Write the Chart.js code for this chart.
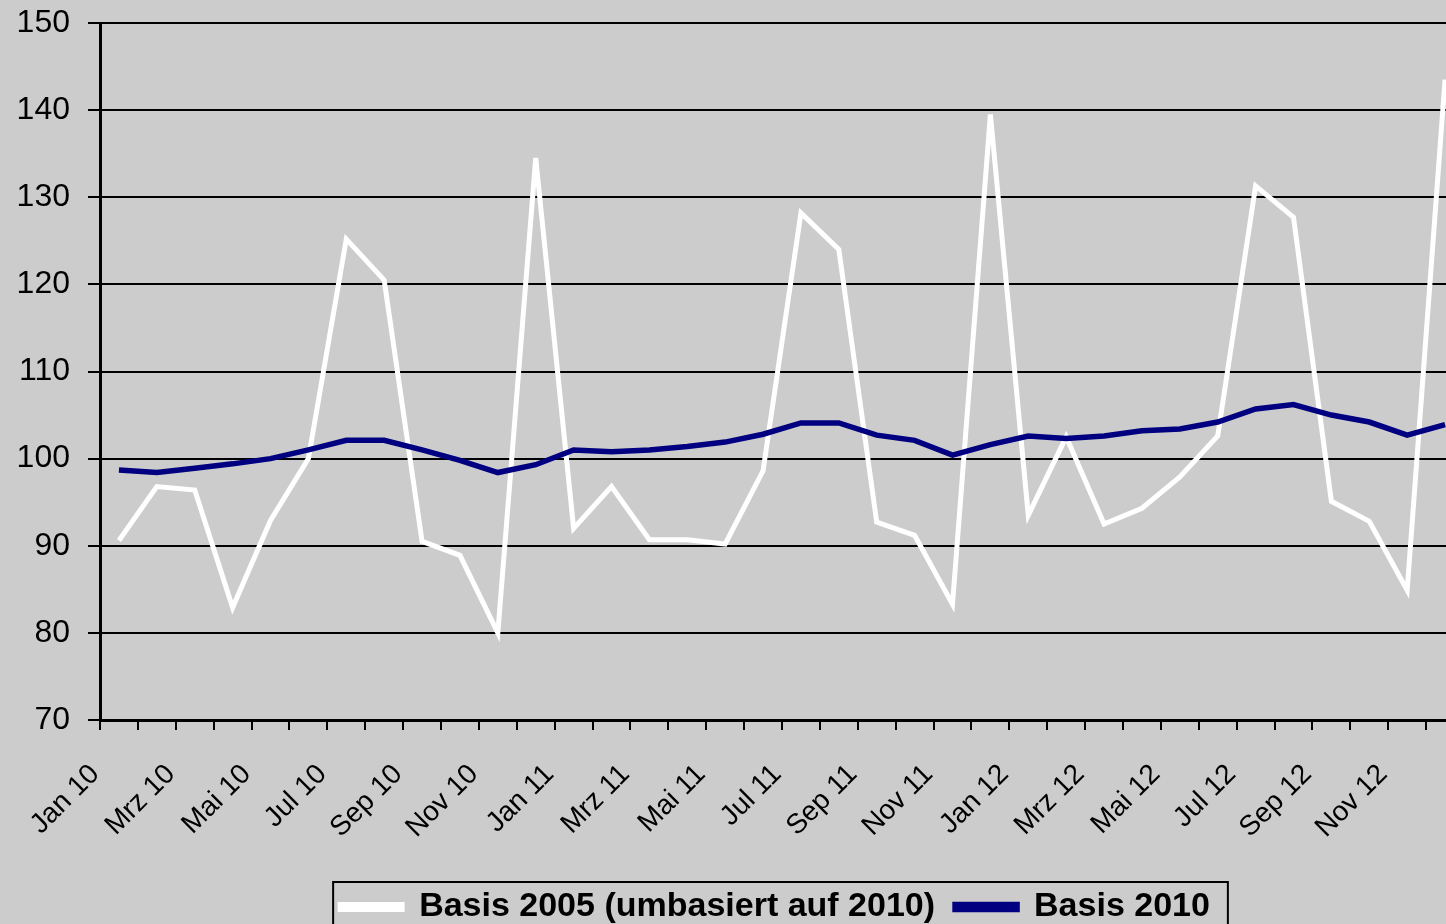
<!DOCTYPE html>
<html>
<head>
<meta charset="utf-8">
<script src="https://cdn.jsdelivr.net/npm/chart.js@4"></script>
<style>
  html, body { margin: 0; padding: 0; overflow: hidden; background: #cccccc; }
  #wrap { position: absolute; left: 0; top: 0; width: 1550px; height: 934px; }
</style>
</head>
<body>
<div id="wrap"><canvas id="statChart"></canvas></div>
<script>
// months Jan 10 .. Dez 12
var months = ['Jan 10','Feb 10','Mrz 10','Apr 10','Mai 10','Jun 10','Jul 10','Aug 10','Sep 10','Okt 10','Nov 10','Dez 10',
              'Jan 11','Feb 11','Mrz 11','Apr 11','Mai 11','Jun 11','Jul 11','Aug 11','Sep 11','Okt 11','Nov 11','Dez 11',
              'Jan 12','Feb 12','Mrz 12','Apr 12','Mai 12','Jun 12','Jul 12','Aug 12','Sep 12','Okt 12','Nov 12','Dez 12'];

var basis2005 = [90.6, 96.8, 96.4, 82.9, 92.9, 100, 125.2, 120.5, 90.5, 88.9, 80, 134.5,
                 92, 96.8, 90.7, 90.7, 90.2, 98.6, 128.2, 124, 92.7, 91.2, 83.3, 139.5,
                 93.5, 102.5, 92.5, 94.3, 97.9, 102.6, 131.3, 127.7, 95.1, 92.8, 84.9, 143.5];

var basis2010 = [98.7, 98.4, 98.9, 99.4, 100, 101, 102.1, 102.1, 101, 99.8, 98.4, 99.3,
                 101, 100.8, 101, 101.4, 101.9, 102.8, 104.1, 104.1, 102.7, 102.1, 100.4, 101.6,
                 102.6, 102.3, 102.6, 103.2, 103.4, 104.2, 105.7, 106.2, 105, 104.2, 102.7, 103.9];

var yTicks = [70, 80, 90, 100, 110, 120, 130, 140, 150];

Chart.defaults.font.family = 'Arial, "Liberation Sans", sans-serif';
Chart.defaults.color = '#000000';

// frame round the legend like the original
var legendFrame = {
  id: 'legendFrame',
  afterDraw: function (chart) {
    var boxes = chart.legend.legendHitBoxes;
    if (!boxes || !boxes.length) return;
    var l = Math.min.apply(null, boxes.map(b => b.left));
    var r = Math.max.apply(null, boxes.map(b => b.left + b.width));
    var mid = boxes[0].top + boxes[0].height / 2;
    var ctx = chart.ctx;
    ctx.save();
    ctx.strokeStyle = '#000000';
    ctx.lineWidth = 2;
    ctx.strokeRect(l - 7, mid - 25, (r - l) + 25, 50);
    ctx.restore();
  }
};

var ctx = document.getElementById('statChart').getContext('2d');
var chart = new Chart(ctx, {
  type: 'line',
  data: {
    labels: months,
    datasets: [
      {
        label: 'Basis 2005 (umbasiert auf 2010)',
        data: basis2005,
        borderColor: '#ffffff',
        backgroundColor: '#ffffff',
        borderWidth: 5,
        pointRadius: 0,
        tension: 0,
        order: 2
      },
      {
        label: 'Basis 2010',
        data: basis2010,
        borderColor: '#000080',
        backgroundColor: '#000080',
        borderWidth: 5.5,
        pointRadius: 0,
        tension: 0,
        order: 1
      }
    ]
  },
  options: {
    responsive: true,
    maintainAspectRatio: false,
    animation: false,
    layout: { padding: { top: 23, left: 0, right: 0, bottom: 0 } },
    plugins: {
      tooltip: { enabled: false },
      legend: {
        position: 'bottom',
        reverse: true,
        labels: {
          boxWidth: 62,
          boxHeight: 5,
          padding: 20,
          font: { size: 34, weight: 'bold' },
          color: '#000000'
        }
      }
    },
    scales: {
      x: {
        offset: true,
        grid: {
          offset: true,
          drawOnChartArea: false,
          drawTicks: true,
          tickLength: 10,
          color: '#000000',
          lineWidth: 2
        },
        border: { display: true, color: '#000000', width: 3 },
        ticks: {
          autoSkip: false,
          minRotation: 45,
          maxRotation: 45,
          padding: 28,
          labelOffset: -24,
          font: { size: 28 },
          color: '#000000',
          callback: function (val, i) { return i % 2 === 0 ? months[i] : ''; }
        },
        afterFit: function (s) { s.height = 150; }
      },
      y: {
        min: 70,
        max: 150,
        afterBuildTicks: function (s) { s.ticks = yTicks.map(v => ({ value: v })); },
        grid: {
          color: '#000000',
          lineWidth: 2,
          drawTicks: true,
          tickLength: 12
        },
        border: { display: true, color: '#000000', width: 3 },
        ticks: {
          padding: 18,
          font: { size: 32 },
          color: '#000000'
        },
        afterFit: function (s) { s.width = 100; s.paddingTop = 0; s.paddingBottom = 0; }
      },
      yPad: {
        position: 'right',
        display: true,
        grid: { display: false, drawTicks: false },
        border: { display: false },
        ticks: { display: false },
        afterFit: function (s) { s.width = 86; s.paddingTop = 0; s.paddingBottom = 0; }
      }
    }
  },
  plugins: [legendFrame]
});
</script>
</body>
</html>
